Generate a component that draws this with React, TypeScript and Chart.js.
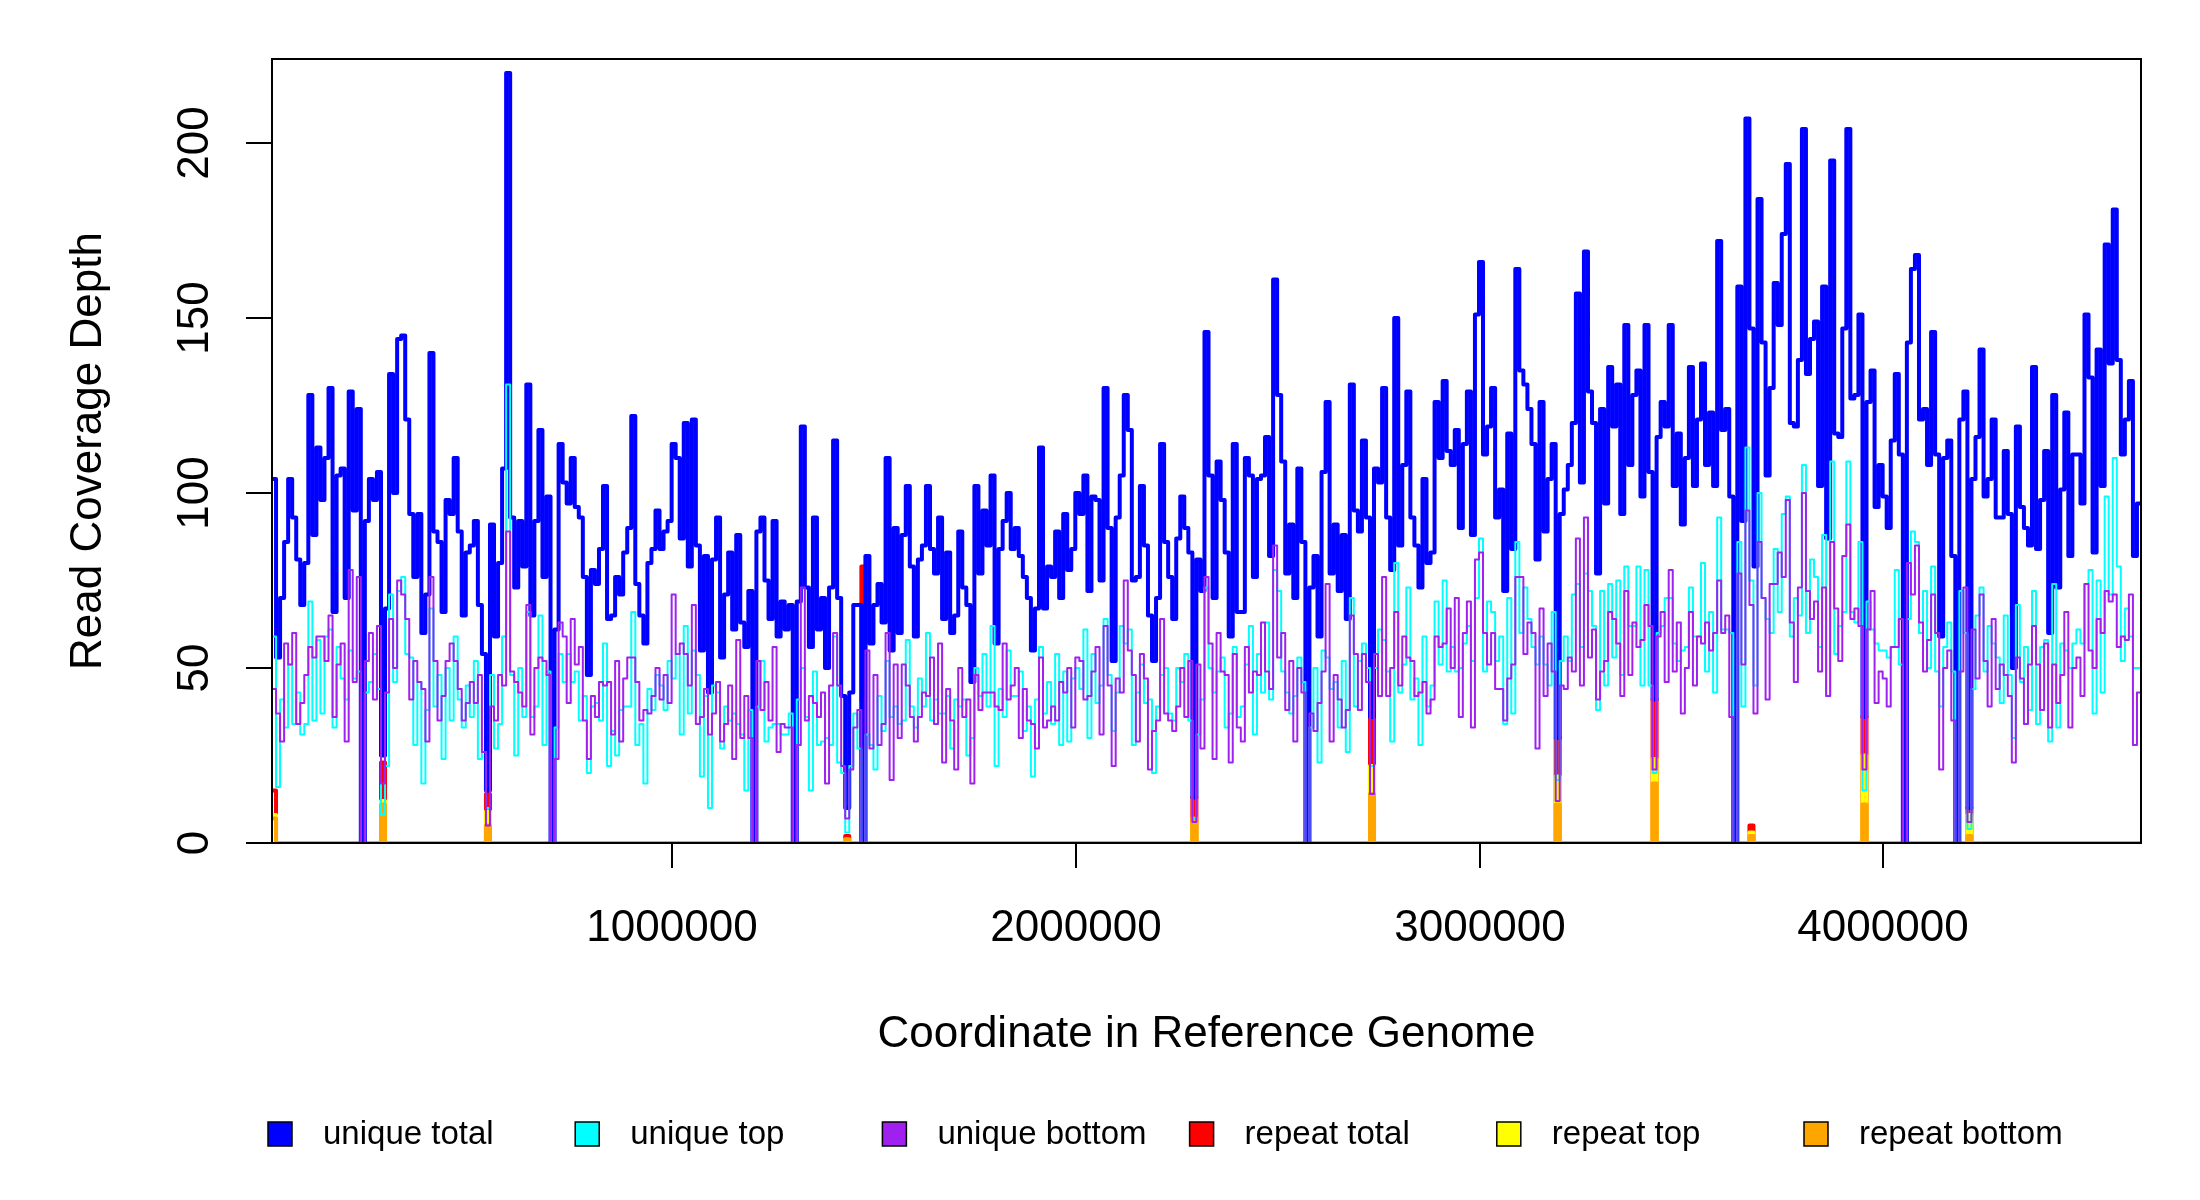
import { useEffect, useRef } from "react";
import { Chart, registerables, Plugin } from "chart.js";

Chart.register(...registerables);

// 10 kb bins along the genome
const BIN_SIZE = 10000;
const FIRST_BIN = 8000;

// unique total (blue), one value per bin
const uniqueTotal = [
  104, 53, 70, 86, 104, 93, 81, 68, 80, 128,
  88, 113, 98, 110, 130, 66, 105, 107, 70, 129,
  95, 124, 0, 92, 104, 98, 106, 25, 67, 134,
  100, 144, 145, 121, 94, 76, 94, 60, 71, 140,
  89, 86, 66, 98, 94, 110, 89, 65, 83, 85,
  92, 68, 54, 15, 91, 59, 80, 107, 220, 93,
  73, 92, 79, 131, 65, 92, 118, 76, 99, 0,
  61, 114, 103, 97, 110, 96, 93, 76, 48, 78,
  74, 84, 102, 64, 65, 76, 71, 83, 90, 122,
  74, 65, 57, 80, 84, 95, 84, 89, 92, 114,
  110, 87, 120, 79, 121, 85, 55, 82, 43, 81,
  93, 53, 71, 83, 61, 88, 63, 56, 72, 0,
  89, 93, 75, 64, 92, 59, 69, 61, 68, 0,
  69, 119, 73, 56, 93, 61, 70, 50, 73, 115,
  70, 42, 10, 43, 68, 68, 0, 82, 57, 68,
  74, 63, 110, 55, 90, 60, 88, 102, 79, 59,
  81, 85, 102, 84, 77, 93, 64, 83, 60, 65,
  89, 73, 68, 46, 102, 77, 95, 85, 105, 57,
  84, 92, 100, 84, 90, 82, 76, 70, 55, 67,
  113, 67, 79, 76, 89, 70, 94, 78, 84, 100,
  94, 105, 72, 99, 98, 75, 130, 90, 52, 93,
  105, 128, 118, 75, 76, 102, 85, 65, 52, 70,
  114, 86, 76, 64, 87, 99, 90, 83, 13, 81,
  72, 146, 105, 70, 109, 98, 83, 59, 114, 66,
  66, 110, 105, 76, 104, 105, 116, 82, 161, 128,
  109, 77, 91, 70, 107, 86, 0, 73, 82, 59,
  106, 126, 77, 91, 72, 88, 64, 131, 95, 89,
  115, 93, 36, 107, 103, 130, 93, 78, 150, 85,
  108, 129, 93, 85, 73, 104, 80, 83, 126, 110,
  132, 112, 108, 118, 90, 114, 129, 88, 151, 166,
  111, 119, 130, 93, 101, 72, 117, 84, 164, 135,
  131, 124, 114, 81, 126, 89, 104, 114, 30, 94,
  101, 108, 120, 157, 103, 169, 129, 120, 77, 124,
  97, 136, 119, 131, 94, 148, 108, 128, 135, 99,
  148, 106, 41, 116, 126, 119, 148, 102, 117, 91,
  110, 136, 102, 121, 137, 108, 123, 102, 172, 118,
  124, 99, 0, 159, 92, 207, 147, 79, 184, 143,
  105, 130, 160, 148, 174, 194, 120, 119, 138, 204,
  134, 144, 149, 102, 159, 87, 195, 117, 116, 147,
  204, 127, 128, 151, 36, 126, 135, 96, 108, 99,
  90, 115, 134, 111, 0, 143, 164, 168, 121, 124,
  108, 146, 111, 59, 110, 115, 82, 0, 121, 129,
  10, 104, 116, 141, 99, 104, 121, 93, 93, 112,
  94, 50, 119, 96, 90, 85, 136, 84, 98, 112,
  60, 128, 73, 101, 123, 82, 111, 111, 97, 151,
  133, 83, 141, 102, 171, 137, 181, 138, 111, 121,
  132, 82, 97,
];

// unique top (cyan)
const uniqueTop = [
  59, 16, 41, 33, 51, 34, 43, 31, 34, 69,
  35, 58, 37, 59, 61, 33, 56, 47, 41, 55,
  47, 49, 0, 43, 46, 54, 44, 8, 22, 71,
  46, 72, 76, 54, 53, 28, 46, 17, 38, 67,
  39, 48, 24, 50, 35, 59, 41, 33, 45, 36,
  52, 24, 26, 10, 48, 27, 34, 59, 131, 48,
  25, 50, 36, 66, 36, 39, 65, 28, 49, 0,
  33, 54, 46, 54, 46, 49, 35, 42, 20, 39,
  40, 35, 57, 22, 32, 25, 38, 39, 39, 66,
  28, 34, 17, 44, 38, 48, 45, 38, 52, 47,
  54, 31, 62, 37, 55, 48, 19, 42, 10, 45,
  43, 27, 39, 35, 37, 34, 31, 15, 38, 0,
  39, 52, 29, 33, 34, 34, 31, 31, 37, 0,
  41, 50, 36, 15, 49, 28, 29, 30, 28, 59,
  23, 20, 3, 22, 37, 27, 0, 31, 28, 21,
  42, 32, 52, 36, 39, 34, 35, 58, 39, 33,
  47, 39, 60, 35, 41, 37, 37, 42, 27, 41,
  39, 41, 25, 30, 50, 42, 54, 39, 62, 22,
  44, 36, 55, 42, 42, 49, 32, 39, 19, 41,
  56, 37, 46, 34, 54, 28, 49, 29, 47, 50,
  44, 61, 30, 54, 40, 45, 64, 48, 32, 43,
  62, 57, 61, 28, 43, 51, 40, 41, 20, 39,
  48, 50, 37, 35, 50, 46, 54, 35, 7, 31,
  41, 73, 50, 43, 49, 53, 33, 37, 56, 36,
  39, 51, 62, 31, 54, 43, 63, 41, 78, 72,
  49, 43, 37, 42, 53, 46, 0, 33, 50, 23,
  55, 53, 44, 46, 33, 52, 26, 70, 39, 52,
  57, 50, 22, 50, 61, 58, 49, 29, 80, 43,
  51, 73, 41, 47, 28, 59, 39, 45, 69, 51,
  75, 49, 56, 49, 50, 57, 62, 52, 70, 87,
  49, 69, 66, 52, 59, 34, 70, 37, 86, 60,
  73, 64, 56, 51, 59, 51, 45, 66, 18, 52,
  59, 52, 71, 74, 56, 77, 72, 62, 38, 72,
  45, 74, 53, 75, 48, 79, 62, 62, 79, 45,
  78, 45, 20, 60, 62, 70, 70, 57, 52, 55,
  56, 73, 59, 59, 80, 49, 66, 43, 93, 61,
  61, 60, 0, 86, 39, 113, 75, 45, 100, 70,
  64, 60, 84, 66, 94, 99, 59, 70, 65, 108,
  60, 81, 76, 56, 88, 42, 109, 54, 62, 66,
  109, 66, 63, 86, 15, 69, 61, 57, 55, 55,
  53, 56, 78, 51, 0, 64, 89, 86, 60, 72,
  50, 79, 49, 39, 56, 63, 49, 0, 72, 60,
  4, 44, 65, 73, 49, 62, 57, 53, 40, 65,
  48, 30, 68, 46, 56, 38, 72, 34, 56, 58,
  29, 74, 33, 57, 55, 50, 57, 61, 57, 74,
  78, 37, 75, 43, 99, 71, 110, 79, 52, 67,
  59, 50, 50,
];

// unique bottom (purple)
const uniqueBottom = [
  44, 37, 29, 57, 51, 60, 34, 40, 48, 56,
  53, 59, 59, 52, 65, 36, 51, 57, 29, 78,
  46, 76, 0, 52, 60, 41, 62, 17, 43, 64,
  50, 75, 71, 64, 41, 52, 46, 44, 29, 76,
  52, 35, 42, 52, 57, 52, 44, 35, 40, 46,
  40, 48, 26, 5, 39, 35, 48, 45, 89, 49,
  46, 43, 39, 68, 31, 50, 53, 52, 48, 0,
  24, 63, 59, 40, 64, 51, 56, 35, 24, 42,
  36, 46, 45, 46, 31, 52, 29, 47, 53, 53,
  46, 35, 38, 37, 42, 50, 41, 48, 40, 71,
  54, 57, 54, 45, 68, 34, 36, 44, 31, 37,
  46, 29, 34, 45, 24, 58, 30, 42, 30, 0,
  52, 38, 46, 35, 56, 26, 34, 33, 33, 0,
  28, 73, 35, 42, 40, 36, 43, 17, 45, 60,
  45, 22, 7, 21, 33, 38, 0, 55, 27, 48,
  28, 34, 60, 18, 51, 30, 51, 45, 36, 29,
  36, 43, 42, 53, 34, 57, 23, 44, 35, 21,
  50, 36, 41, 17, 48, 38, 43, 43, 43, 39,
  38, 57, 41, 45, 50, 30, 44, 35, 34, 27,
  53, 33, 35, 39, 35, 46, 43, 50, 33, 53,
  52, 41, 42, 49, 56, 31, 62, 45, 22, 47,
  43, 75, 55, 48, 29, 54, 47, 21, 32, 35,
  64, 37, 35, 32, 39, 50, 36, 52, 6, 51,
  27, 76, 57, 24, 60, 49, 48, 23, 54, 33,
  29, 56, 43, 49, 48, 63, 49, 44, 85, 53,
  60, 38, 52, 29, 50, 43, 0, 37, 32, 40,
  49, 74, 29, 48, 41, 33, 38, 65, 54, 38,
  54, 46, 14, 54, 42, 76, 42, 50, 66, 45,
  59, 53, 52, 42, 43, 46, 37, 41, 59, 56,
  57, 67, 50, 70, 36, 60, 69, 33, 81, 83,
  60, 51, 60, 44, 44, 35, 47, 51, 76, 76,
  54, 63, 60, 27, 67, 42, 57, 49, 12, 45,
  44, 53, 49, 87, 45, 93, 53, 61, 41, 49,
  52, 66, 64, 57, 42, 72, 48, 63, 56, 58,
  68, 62, 21, 59, 66, 46, 78, 49, 63, 37,
  50, 66, 45, 59, 57, 63, 55, 60, 75, 60,
  65, 36, 0, 77, 51, 95, 68, 37, 86, 70,
  41, 74, 74, 83, 76, 98, 63, 46, 73, 100,
  72, 64, 69, 49, 73, 42, 86, 67, 52, 82,
  91, 64, 67, 62, 21, 61, 72, 40, 49, 47,
  39, 56, 56, 64, 0, 80, 71, 85, 63, 49,
  58, 71, 60, 21, 50, 55, 35, 0, 49, 73,
  6, 61, 47, 71, 52, 39, 64, 44, 51, 48,
  42, 23, 53, 47, 34, 51, 62, 51, 38, 57,
  33, 51, 40, 48, 66, 33, 50, 53, 42, 74,
  55, 50, 64, 60, 72, 69, 71, 56, 59, 58,
  71, 28, 43,
];

// repeat reads: zero everywhere except these bins
const repeatBins = [0, 27, 53, 142, 146, 228, 272, 318, 342, 366, 394, 420];
const repeatTotal = [15, 23, 14, 2, 79, 13, 36, 30, 41, 5, 36, 10];
const repeatTop = [8, 12, 9, 1, 40, 6, 22, 19, 24, 3, 25, 8];
const repeatBottom = [7, 11, 5, 1, 39, 7, 14, 11, 17, 2, 11, 2];

const xTicks = [1000000, 2000000, 3000000, 4000000];
const yTicks = [0, 50, 100, 150, 200];

const legendLabels = ["unique total", "unique top", "unique bottom", "repeat total", "repeat top", "repeat bottom"];
const legendColors = ["#0000FF", "#00FFFF", "#A020F0", "#FF0000", "#FFFF00", "#FFA500"];

const FONT = '"Liberation Sans", Arial, Helvetica, sans-serif';

const toSteps = (values: number[]) => {
  const pts = values.map((v, i) => ({ x: FIRST_BIN + i * BIN_SIZE, y: v }));
  pts.push({ x: FIRST_BIN + values.length * BIN_SIZE, y: values[values.length - 1] });
  return pts;
};

const expandRepeat = (vals: number[]) =>
  uniqueTotal.map((_, i) => {
    const k = repeatBins.indexOf(i);
    return k >= 0 ? vals[k] : 0;
  });

// R-like frame, axes, titles and legend
const rFrame: Plugin = {
  id: "rFrame",
  afterDraw(chart) {
    const { ctx, chartArea: a } = chart;
    const xs = chart.scales.x;
    const ys = chart.scales.y;
    ctx.save();
    ctx.strokeStyle = "#000";
    ctx.fillStyle = "#000";
    ctx.lineWidth = 2;
    ctx.strokeRect(a.left, a.top, a.right - a.left, a.bottom - a.top);

    ctx.font = `44px ${FONT}`;
    ctx.textAlign = "center";
    ctx.textBaseline = "alphabetic";
    xTicks.forEach((v) => {
      const px = Math.round(xs.getPixelForValue(v));
      ctx.beginPath();
      ctx.moveTo(px, a.bottom);
      ctx.lineTo(px, a.bottom + 25);
      ctx.stroke();
      ctx.fillText(String(v), px, 941);
    });

    yTicks.forEach((v) => {
      const py = Math.round(ys.getPixelForValue(v));
      ctx.beginPath();
      ctx.moveTo(a.left - 26, py);
      ctx.lineTo(a.left, py);
      ctx.stroke();
      ctx.save();
      ctx.translate(208, py);
      ctx.rotate(-Math.PI / 2);
      ctx.fillText(String(v), 0, 0);
      ctx.restore();
    });

    ctx.fillText("Coordinate in Reference Genome", (a.left + a.right) / 2, 1047);
    ctx.save();
    ctx.translate(101, (a.top + a.bottom) / 2);
    ctx.rotate(-Math.PI / 2);
    ctx.fillText("Read Coverage Depth", 0, 0);
    ctx.restore();

    ctx.font = `33px ${FONT}`;
    ctx.textAlign = "left";
    ctx.textBaseline = "middle";
    ctx.lineWidth = 1.5;
    legendLabels.forEach((label, i) => {
      const tx = 323 + i * 307.2;
      ctx.fillStyle = legendColors[i];
      ctx.fillRect(tx - 55, 1122, 24, 24);
      ctx.strokeRect(tx - 55, 1122, 24, 24);
      ctx.fillStyle = "#000";
      ctx.fillText(label, tx, 1135);
    });
    ctx.restore();
  },
};

const App = () => {
  const canvasRef = useRef<HTMLCanvasElement | null>(null);

  useEffect(() => {
    if (!canvasRef.current) return;
    const line = (label: string, values: number[], color: string, width: number, order: number) => ({
      label,
      data: toSteps(values),
      borderColor: color,
      backgroundColor: color,
      borderWidth: width,
      stepped: "before" as const,
      pointRadius: 0,
      fill: false,
      order,
      clip: 0,
      borderJoinStyle: "round" as const,
    });

    const chart = new Chart(canvasRef.current, {
      type: "line",
      data: {
        datasets: [
          line("unique total", uniqueTotal, legendColors[0], 4, 2),
          line("unique top", uniqueTop, legendColors[1], 2, 1),
          line("unique bottom", uniqueBottom, legendColors[2], 2, 0),
          line("repeat total", expandRepeat(repeatTotal), legendColors[3], 4, 5),
          line("repeat top", expandRepeat(repeatTop), legendColors[4], 4, 4),
          line("repeat bottom", expandRepeat(repeatBottom), legendColors[5], 4, 3),
        ],
      },
      options: {
        responsive: false,
        animation: false,
        devicePixelRatio: 1,
        events: [],
        layout: { padding: { left: 272, right: 59, top: 59, bottom: 357 } },
        plugins: { legend: { display: false }, tooltip: { enabled: false } },
        scales: {
          x: { type: "linear", min: FIRST_BIN, max: FIRST_BIN + uniqueTotal.length * BIN_SIZE, display: false },
          y: { type: "linear", min: 0, max: 224, display: false },
        },
      },
      plugins: [rFrame],
    });

    return () => {
      chart.destroy();
    };
  }, []);

  return (
    <div style={{ position: "fixed", left: 0, top: 0, width: 2200, height: 1200, background: "#fff" }}>
      <canvas ref={canvasRef} width={2200} height={1200} style={{ display: "block" }} />
    </div>
  );
};

export default App;
